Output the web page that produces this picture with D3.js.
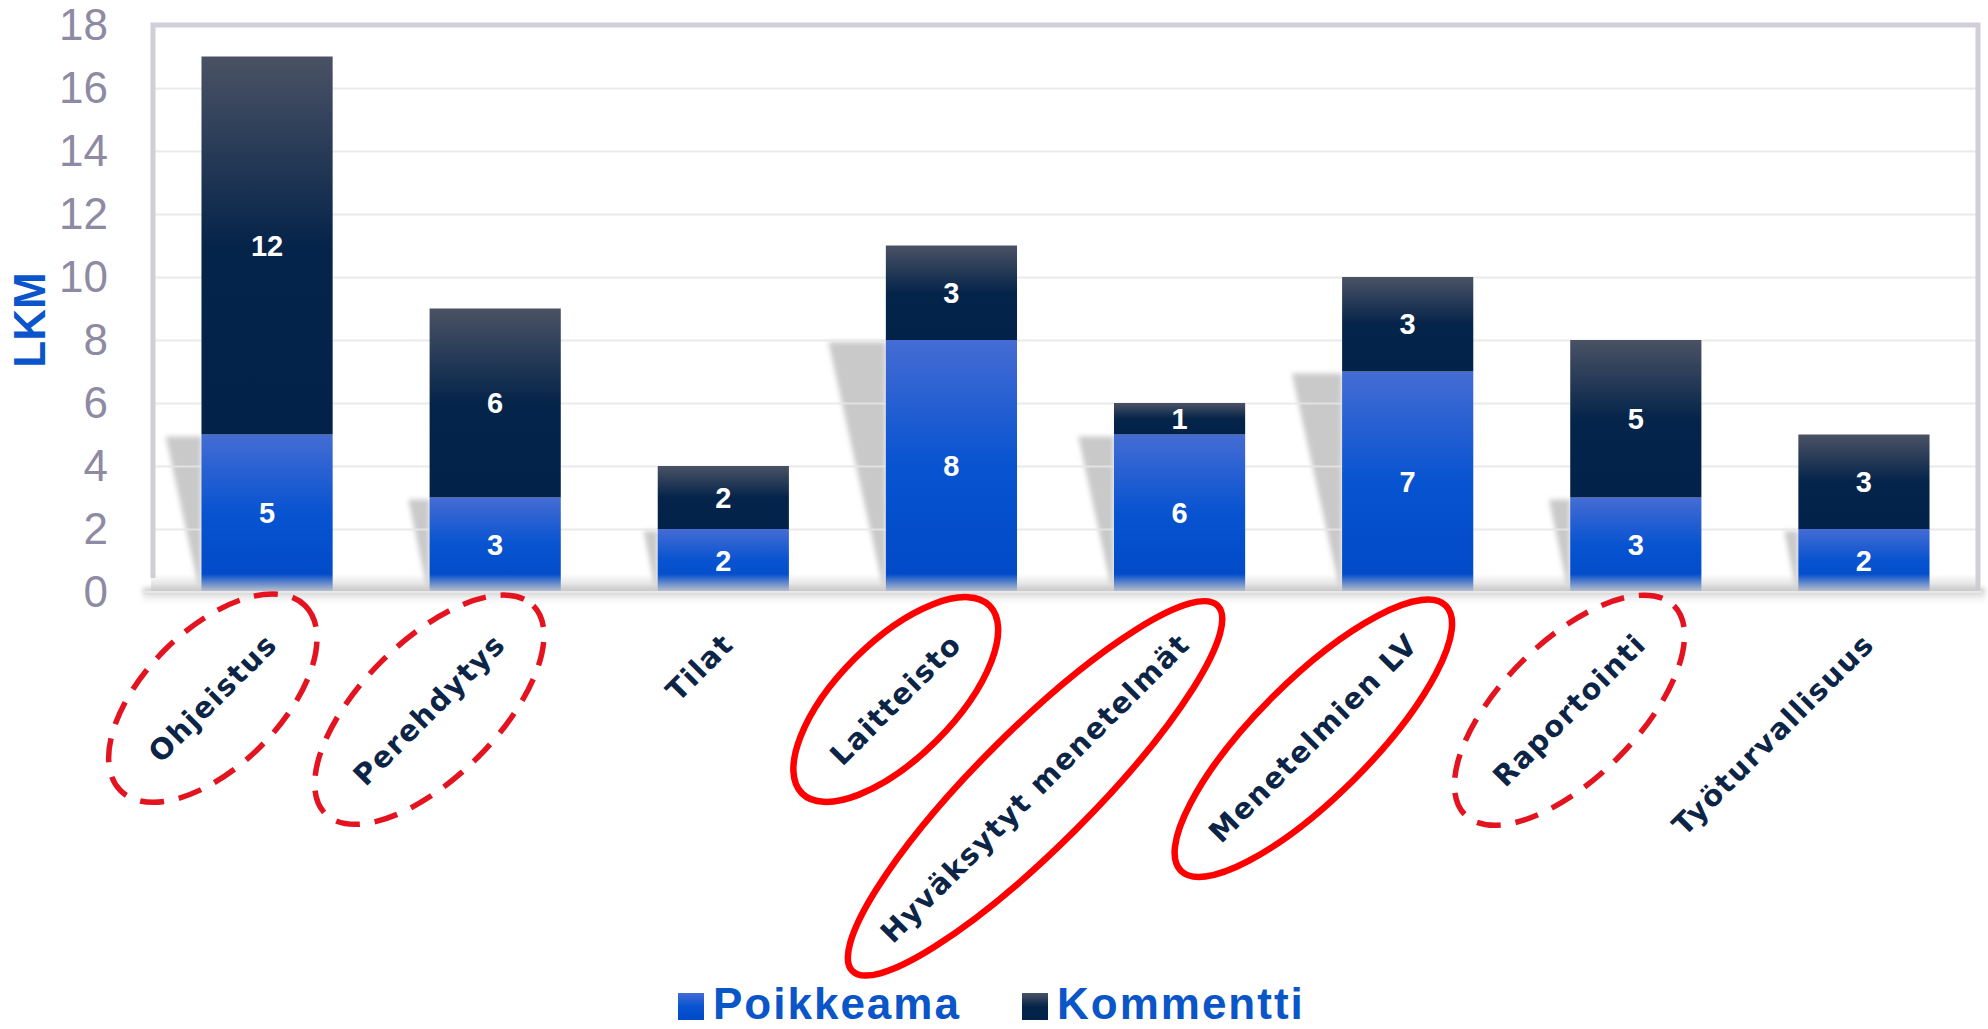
<!DOCTYPE html>
<meta charset="utf-8">
<html>
<head>
<style>
    body { margin: 0; background: #fff; }
    svg { display: block; }
</style>
<script src="https://d3js.org/d3.v7.min.js"></script>
</head>
<body>
<script>

// Chart data
var categories = ["Ohjeistus", "Perehdytys", "Tilat", "Laitteisto", "Hyväksytyt menetelmät", "Menetelmien LV", "Raportointi", "Työturvallisuus"];
var poikkeama = [5, 3, 2, 8, 5, 7, 3, 2];
var poikkeamaLabels = ["5", "3", "2", "8", "6", "7", "3", "2"];
var kommentti = [12, 6, 2, 3, 1, 3, 5, 3];
var kommenttiLabels = ["12", "6", "2", "3", "1", "3", "5", "3"];
var highlight = ["dashed", "dashed", "", "solid", "solid", "solid", "dashed", ""];
var seriesNames = ["Poikkeama", "Kommentti"];
var yTicks = [0, 2, 4, 6, 8, 10, 12, 14, 16, 18];
var yTitle = "LKM";

var width = 1988, height = 1029;
var plot = {left: 153, right: 1978, top: 25, bottom: 592};

var svg = d3.select("body").append("svg")
    .attr("width", width)
    .attr("height", height);

var defs = svg.append("defs");

// Gradients for the two series
function vGrad(id, stops) {
    var g = defs.append("linearGradient").attr("id", id)
        .attr("x1", 0).attr("y1", 0).attr("x2", 0).attr("y2", 1);
    stops.forEach(function(s) {
        g.append("stop").attr("offset", s[0]).attr("stop-color", s[1]).attr("stop-opacity", s[2] == null ? 1 : s[2]);
    });
}
vGrad("gradBlue", [[0, "#456cd4"], [0.5, "#0753d0"], [1, "#0049c7"]]);
vGrad("gradDark", [[0, "#4a5264"], [0.5, "#05244a"], [1, "#03224a"]]);
vGrad("gradFloor", [[0, "#d0d0d0", 0], [1, "#cbcbcb", 0.95]]);
vGrad("gradShadow", [[0, "#b8b8b8"], [1, "#ffffff", 0]]);

defs.append("filter").attr("id", "blur").attr("x", "-20%").attr("y", "-20%").attr("width", "140%").attr("height", "140%")
    .append("feGaussianBlur").attr("stdDeviation", 2.5);

var colors = {Poikkeama: "url(#gradBlue)", Kommentti: "url(#gradDark)"};

// Scales
var x = d3.scaleBand()
    .domain(categories)
    .range([plot.left, plot.right])
    .paddingInner(0.425)
    .paddingOuter(0.2125);

var y = d3.scaleLinear()
    .domain([0, 18])
    .range([plot.bottom, plot.top]);

var rows = categories.map(function(c, i) {
    return {cat: c, i: i, Poikkeama: poikkeama[i], Kommentti: kommentti[i]};
});
var stacked = d3.stack().keys(seriesNames)(rows);

// Floor shadow under the plot
svg.append("rect")
    .attr("x", plot.left - 10).attr("y", plot.bottom - 4)
    .attr("width", plot.right - plot.left + 17).attr("height", 18)
    .attr("fill", "url(#gradShadow)")
    .attr("filter", "url(#blur)");

// Perspective shadows behind the blue segments
svg.append("g").selectAll("polygon")
    .data(stacked[0])
    .join("polygon")
    .attr("points", function(d) {
        var x0 = x(d.data.cat), top = y(d[1]) + 2, h = y(0) - top;
        return [[x0 - 0.23 * h, top], [x0, top], [x0, y(0) - 6], [x0 - 3, y(0) - 6]].join(" ");
    })
    .attr("fill", "#c9c9c9")
    .attr("filter", "url(#blur)");

// Gridlines
svg.append("g")
    .attr("transform", "translate(" + plot.left + ",0)")
    .call(d3.axisLeft(y).tickValues(yTicks.slice(1, -1)).tickSize(-(plot.right - plot.left)).tickFormat(""))
    .call(function(g) { g.select(".domain").remove(); })
    .selectAll("line")
    .attr("stroke", "#e6e6e9")
    .attr("stroke-opacity", 0.85)
    .attr("stroke-width", 2);

// Frame
svg.append("path")
    .attr("d", "M" + plot.left + "," + (plot.bottom - 14) + "V" + plot.top + "H" + plot.right + "V" + (plot.bottom - 2))
    .attr("fill", "none")
    .attr("stroke", "#d1cdd9")
    .attr("stroke-width", 5);

// Stacked bars
var layers = svg.append("g").selectAll("g")
    .data(stacked)
    .join("g")
    .attr("fill", function(d) { return colors[d.key]; });

layers.selectAll("rect")
    .data(function(d) { return d; })
    .join("rect")
    .attr("x", function(d) { return x(d.data.cat); })
    .attr("y", function(d) { return y(d[1]); })
    .attr("width", x.bandwidth())
    .attr("height", function(d) { return y(d[0]) - y(d[1]); });

// Floor fade over the bar bottoms
svg.append("rect")
    .attr("x", plot.left - 2).attr("y", plot.bottom - 18)
    .attr("width", plot.right - plot.left + 4).attr("height", 18)
    .attr("fill", "url(#gradFloor)");

svg.append("line")
    .attr("x1", plot.left - 8).attr("x2", plot.right + 4)
    .attr("y1", plot.bottom).attr("y2", plot.bottom)
    .attr("stroke", "#e8e8e8")
    .attr("stroke-width", 2);

// Value labels
var labelSets = [poikkeamaLabels, kommenttiLabels];
layers.each(function(layer, li) {
    d3.select(this.parentNode).append("g").selectAll("text")
        .data(layer)
        .join("text")
        .attr("x", function(d) { return x(d.data.cat) + x.bandwidth() / 2; })
        .attr("y", function(d) { return (y(d[0]) + y(d[1])) / 2; })
        .attr("text-anchor", "middle")
        .attr("dominant-baseline", "central")
        .attr("fill", "#fff")
        .attr("font-family", "'Liberation Sans', Arial, sans-serif")
        .attr("font-weight", "bold")
        .attr("font-size", 29)
        .text(function(d) { return labelSets[li][d.data.i]; });
});

// Y axis tick labels
svg.append("g")
    .attr("transform", "translate(" + plot.left + ",0)")
    .call(d3.axisLeft(y).tickValues(yTicks).tickSize(0).tickPadding(45))
    .call(function(g) { g.select(".domain").remove(); })
    .selectAll("text")
    .attr("fill", "#8f8aa3")
    .attr("font-family", "'Liberation Sans', Arial, sans-serif")
    .attr("font-size", 44);

// Y axis title
svg.append("text")
    .attr("transform", "translate(45,320) rotate(-90)")
    .attr("text-anchor", "middle")
    .attr("fill", "#0a55cc")
    .attr("font-family", "'Liberation Sans', Arial, sans-serif")
    .attr("font-weight", "bold")
    .attr("font-size", 44)
    .text(yTitle);

// Rotated category labels with the red ellipses
var xl = svg.append("g").selectAll("g")
    .data(categories)
    .join("g")
    .attr("transform", function(d) {
        return "translate(" + (x(d) + x.bandwidth() / 2 + 12) + ",646) rotate(-45)";
    });

xl.append("text")
    .attr("text-anchor", "end")
    .attr("fill", "#0c2446")
    .attr("font-family", "'DejaVu Sans', sans-serif")
    .attr("font-weight", "bold")
    .attr("font-size", 29)
    .attr("letter-spacing", 1.5)
    .text(function(d) { return d; });

xl.each(function(d, i) {
    if (!highlight[i]) return;
    var g = d3.select(this);
    var len = g.select("text").node().getComputedTextLength();
    var dashed = highlight[i] == "dashed";
    g.append("ellipse")
        .attr("cx", -len / 2)
        .attr("cy", -10)
        .attr("rx", len / 2 + 47)
        .attr("ry", dashed ? 68 : 58)
        .attr("fill", "none")
        .attr("stroke", dashed ? "#e3141f" : "#ff0000")
        .attr("stroke-width", dashed ? 5.5 : 6.5)
        .attr("stroke-dasharray", dashed ? "24,15" : null);
});

// Legend
var legend = svg.append("g").attr("transform", "translate(678,993)");
var legendX = [0, 344];
seriesNames.forEach(function(name, i) {
    var lg = legend.append("g").attr("transform", "translate(" + legendX[i] + ",0)");
    lg.append("rect")
        .attr("width", 26).attr("height", 27)
        .attr("fill", colors[name]);
    lg.append("text")
        .attr("x", 35).attr("y", 26)
        .attr("fill", "#0a55c8")
        .attr("font-family", "'Liberation Sans', Arial, sans-serif")
        .attr("font-weight", "bold")
        .attr("font-size", 44)
        .attr("letter-spacing", 2)
        .text(name);
});

</script>
</body>
</html>
